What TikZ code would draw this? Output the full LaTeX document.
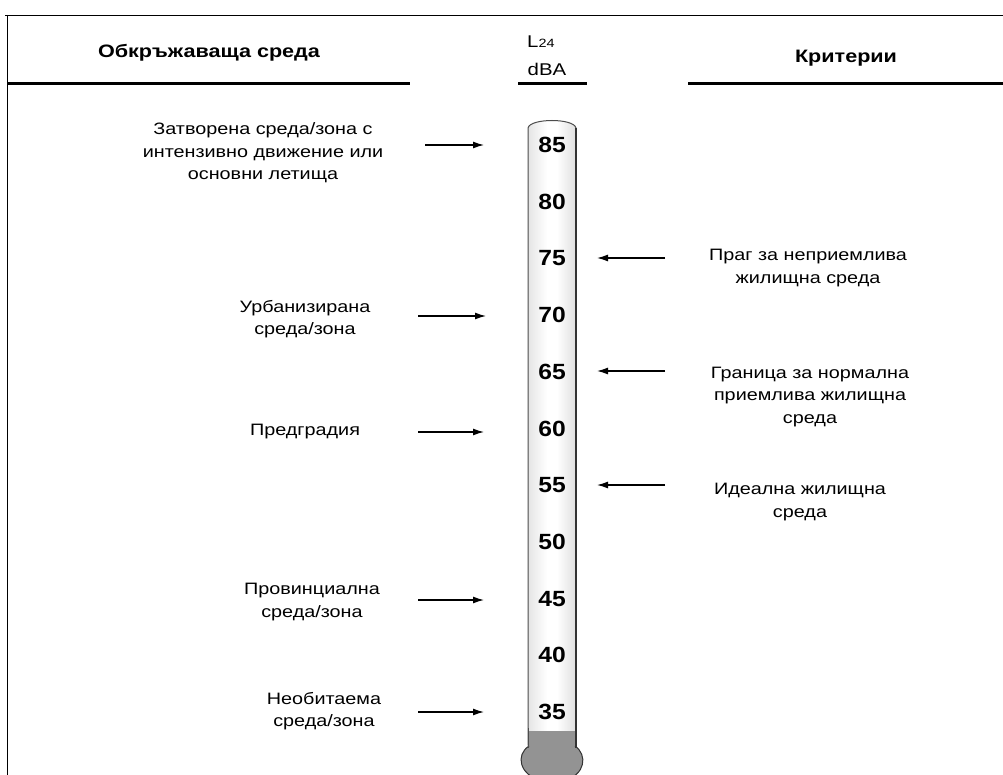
\documentclass[tikz,border=0pt]{standalone}
\usepackage{fontspec}
\setmainfont{Liberation Sans}
\newfontfamily\widefont[FakeStretch=1.2]{Liberation Sans}
\newfontfamily\numfont[FakeStretch=1.12]{Liberation Sans}
\usetikzlibrary{arrows.meta}
\pgfdeclarehorizontalshading{tubeshade}{100bp}{
  color(0bp)=(gray!55); color(30bp)=(gray!15); color(45bp)=(white);
  color(55bp)=(white); color(75bp)=(gray!25); color(100bp)=(gray!70)}
\begin{document}
\begin{tikzpicture}[x=1pt,y=-1pt,
  lbl/.style={font=\widefont\fontsize{16.5}{22.5}\selectfont, align=center, inner sep=0pt},
  hdr/.style={font=\widefont\fontsize{18}{18}\selectfont\bfseries, inner sep=0pt},
  hdrn/.style={font=\widefont\fontsize{17}{17}\selectfont, inner sep=0pt},
  num/.style={font=\numfont\fontsize{22}{22}\selectfont\bfseries, inner sep=0pt},
  arr/.style={-{Latex[length=11pt,width=7pt]}, line width=1.3pt},
  hline/.style={line width=3pt}]
\useasboundingbox (0,0) rectangle (1003,775);
% frame
\draw[line width=0.8pt] (5,15) -- (1003,15);
\draw[line width=0.8pt] (7,15) -- (7,775);
% header
\node[hdr] (h1) at (209,53) {Обкръжаваща среда};
\node[hdrn, anchor=west] (h2) at (527,42) {L{\fontsize{12}{12}\selectfont 24}};
\node[hdrn] (h3) at (547,69) {dBA};
\node[hdr] (h4) at (846,58) {Критерии};
\draw[hline] (7,84) -- (410,84);
\draw[hline] (518,84) -- (587,84);
\draw[hline] (688,84) -- (1003,84);
% thermometer
\shade[shading=tubeshade, draw=black!70, line width=1pt]
  (528,745) -- (528,128) .. controls (530,118) and (574,118) .. (576,128) -- (576,745) -- cycle;
\fill[gray!85] (529,731) rectangle (575,750);
\draw[black!80, line width=1pt, fill=gray!85] (529,746) .. controls (515,755) and (520,775) .. (540,780)
  -- (565,780) .. controls (585,775) and (588,755) .. (575,746);
\draw[black!70, line width=1pt] (528,728) -- (528,748);
\draw[black!80, line width=1.4pt] (576,128) -- (576,748);
\foreach \v [count=\i from 0] in {85,80,75,70,65,60,55,50,45,40,35}{
  \node[num] (n\v) at (552,{145+56.7*\i}) {\v};
}
% left labels
\node[lbl] (l1) at (263,153) {Затворена среда/зона с\\интензивно движение или\\основни летища};
\node[lbl] (l2) at (305,319) {Урбанизирана\\среда/зона};
\node[lbl] (l3) at (305,432) {Предградия};
\node[lbl] (l4) at (312,602) {Провинциална\\среда/зона};
\node[lbl] (l5) at (324,711) {Необитаема\\среда/зона};
\coordinate (a1) at (425,145); \coordinate (b1) at (484,145);
\coordinate (a2) at (418,316); \coordinate (b2) at (486,316);
\coordinate (a3) at (418,432); \coordinate (b3) at (484,432);
\coordinate (a4) at (418,600); \coordinate (b4) at (484,600);
\coordinate (a5) at (418,712); \coordinate (b5) at (484,712);
\foreach \k in {1,...,5}{\draw[arr] (a\k) -- (b\k);}
% right labels
\node[lbl] (r1) at (808,268) {Праг за неприемлива\\жилищна среда};
\node[lbl] (r2) at (810,397) {Граница за нормална\\приемлива жилищна\\среда};
\node[lbl] (r3) at (800,502) {Идеална жилищна\\среда};
\coordinate (c1) at (665,258); \coordinate (d1) at (597,258);
\coordinate (c2) at (665,371); \coordinate (d2) at (597,371);
\coordinate (c3) at (665,485); \coordinate (d3) at (597,485);
\foreach \k in {1,2,3}{\draw[arr] (c\k) -- (d\k);}
\end{tikzpicture}
\end{document}
